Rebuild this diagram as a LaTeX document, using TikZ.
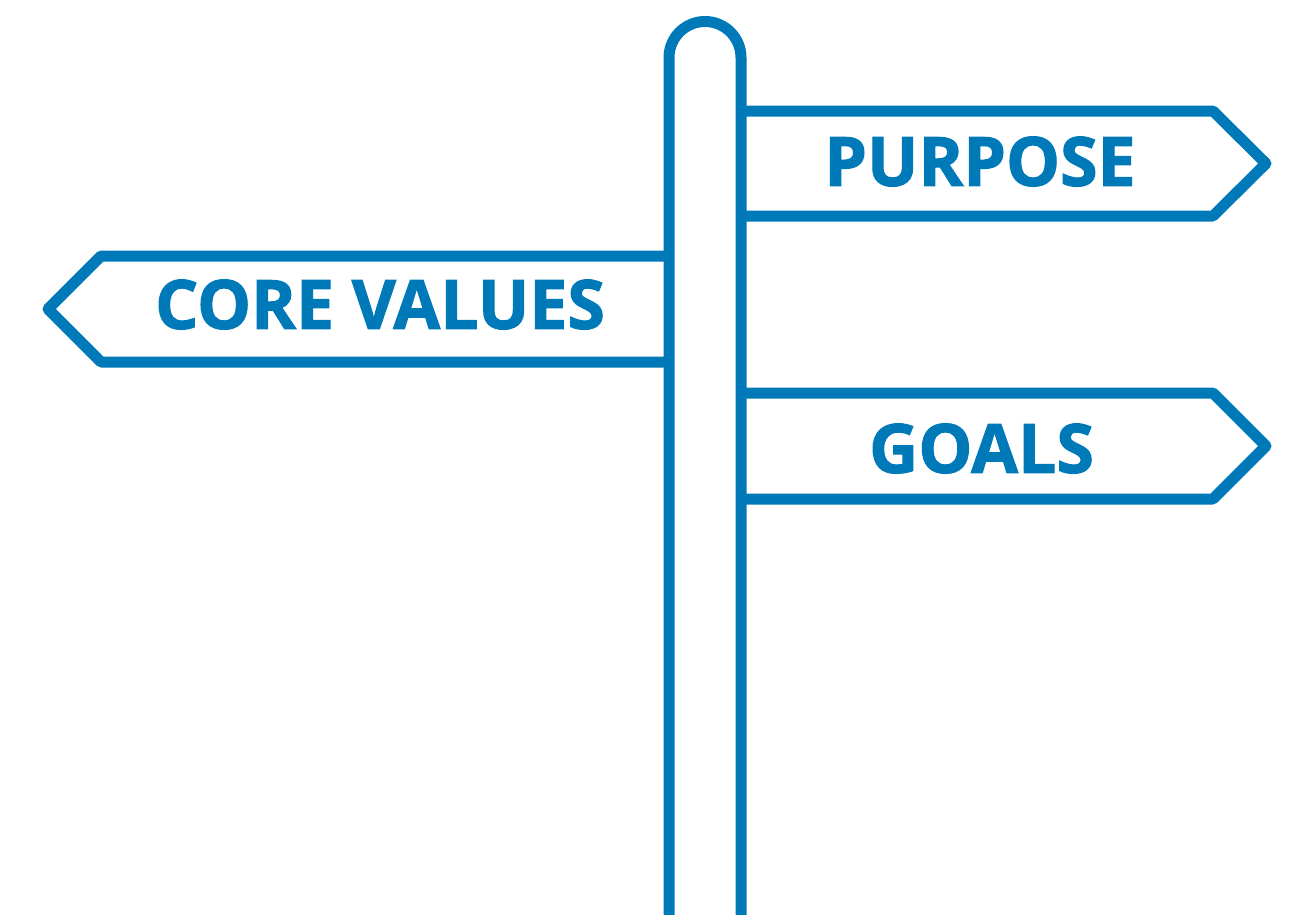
\documentclass[tikz,border=0pt]{standalone}
\usepackage{fontspec}
\setmainfont{Open Sans}
\newfontfamily\signfont{Open Sans Bold}[FakeBold=1.6]
\definecolor{signblue}{RGB}{0,121,185}
\begin{document}
\begin{tikzpicture}[x=1pt,y=-1pt,
  signline/.style={draw=signblue,line width=11pt,line join=round},
  signtext/.style={text=signblue,font=\fontsize{68}{68}\signfont,inner sep=0pt,anchor=center}]
\useasboundingbox (0,0) rectangle (1296,914);
% post with rounded top
\draw[signline] (669,920) -- (669,57.5) arc[start angle=180,end angle=360,radius=36] -- (741,920);
% right-pointing board: purpose
\draw[signline] (741,111) -- (1213,111) -- (1266,163.5) -- (1213,216) -- (741,216);
% left-pointing board: core values
\draw[signline] (669,256) -- (101,256) -- (48,309) -- (101,362) -- (669,362);
% right-pointing board: goals
\draw[signline] (741,393) -- (1213,393) -- (1266,446) -- (1213,499) -- (741,499);
\node[signtext] (purpose) at (980,161.5) {PURPOSE};
\node[signtext] (core) at (380,304.5) {CORE VALUES};
\node[signtext] (goals) at (981.5,448.5) {GOALS};
\end{tikzpicture}
\end{document}
